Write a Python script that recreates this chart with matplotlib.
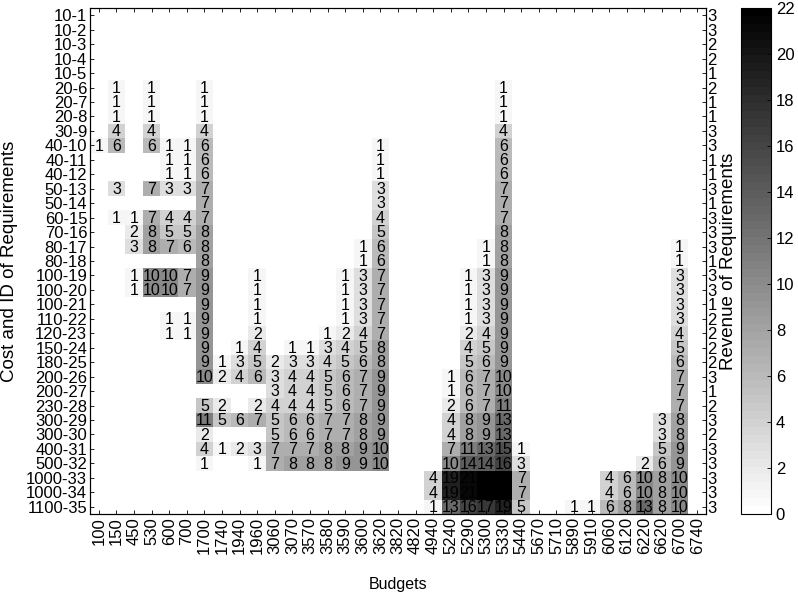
import numpy as np
import matplotlib
matplotlib.use("Agg")
import matplotlib.pyplot as plt

plt.rcParams["font.family"] = ["Liberation Sans", "DejaVu Sans"]

budgets = [100, 150, 450, 530, 600, 700, 1700, 1740, 1940, 1960, 3060, 3070,
           3570, 3580, 3590, 3600, 3620, 3820, 4820, 4940, 5240, 5290, 5300,
           5330, 5440, 5670, 5710, 5890, 5910, 6060, 6120, 6220, 6620, 6700, 6740]

requirements = ["10-1", "10-2", "10-3", "10-4", "10-5", "20-6", "20-7", "20-8",
                "30-9", "40-10", "40-11", "40-12", "50-13", "50-14", "60-15",
                "70-16", "80-17", "80-18", "100-19", "100-20", "100-21", "110-22",
                "120-23", "150-24", "180-25", "200-26", "200-27", "230-28",
                "300-29", "300-30", "400-31", "500-32", "1000-33", "1000-34",
                "1100-35"]

revenue = [3, 3, 2, 2, 1, 2, 1, 1, 3, 3, 1, 1, 3, 1, 3, 3, 3, 1, 3, 3, 1, 2, 2,
           2, 2, 3, 1, 2, 3, 2, 3, 3, 3, 3, 3]

# how often each requirement is picked, per budget (budget -> count), one dict per row
picks = [
    {}, {}, {}, {}, {},
    {150: 1, 530: 1, 1700: 1, 5330: 1},
    {150: 1, 530: 1, 1700: 1, 5330: 1},
    {150: 1, 530: 1, 1700: 1, 5330: 1},
    {150: 4, 530: 4, 1700: 4, 5330: 4},
    {100: 1, 150: 6, 530: 6, 600: 1, 700: 1, 1700: 6, 3620: 1, 5330: 6},
    {600: 1, 700: 1, 1700: 6, 3620: 1, 5330: 6},
    {600: 1, 700: 1, 1700: 6, 3620: 1, 5330: 6},
    {150: 3, 530: 7, 600: 3, 700: 3, 1700: 7, 3620: 3, 5330: 7},
    {1700: 7, 3620: 3, 5330: 7},
    {150: 1, 450: 1, 530: 7, 600: 4, 700: 4, 1700: 7, 3620: 4, 5330: 7},
    {450: 2, 530: 8, 600: 5, 700: 5, 1700: 8, 3620: 5, 5330: 8},
    {450: 3, 530: 8, 600: 7, 700: 6, 1700: 8, 3600: 1, 3620: 6, 5300: 1,
     5330: 8, 6700: 1},
    {1700: 8, 3600: 1, 3620: 6, 5300: 1, 5330: 8, 6700: 1},
    {450: 1, 530: 10, 600: 10, 700: 7, 1700: 9, 1960: 1, 3590: 1, 3600: 3,
     3620: 7, 5290: 1, 5300: 3, 5330: 9, 6700: 3},
    {450: 1, 530: 10, 600: 10, 700: 7, 1700: 9, 1960: 1, 3590: 1, 3600: 3,
     3620: 7, 5290: 1, 5300: 3, 5330: 9, 6700: 3},
    {1700: 9, 1960: 1, 3590: 1, 3600: 3, 3620: 7, 5290: 1, 5300: 3, 5330: 9,
     6700: 3},
    {600: 1, 700: 1, 1700: 9, 1960: 1, 3590: 1, 3600: 3, 3620: 7, 5290: 1,
     5300: 3, 5330: 9, 6700: 3},
    {600: 1, 700: 1, 1700: 9, 1960: 2, 3580: 1, 3590: 2, 3600: 4, 3620: 7,
     5290: 2, 5300: 4, 5330: 9, 6700: 4},
    {1700: 9, 1940: 1, 1960: 4, 3070: 1, 3570: 1, 3580: 3, 3590: 4, 3600: 5,
     3620: 8, 5290: 4, 5300: 5, 5330: 9, 6700: 5},
    {1700: 9, 1740: 1, 1940: 3, 1960: 5, 3060: 2, 3070: 3, 3570: 3, 3580: 4,
     3590: 5, 3600: 6, 3620: 8, 5290: 5, 5300: 6, 5330: 9, 6700: 6},
    {1700: 10, 1740: 2, 1940: 4, 1960: 6, 3060: 3, 3070: 4, 3570: 4, 3580: 5,
     3590: 6, 3600: 7, 3620: 9, 5240: 1, 5290: 6, 5300: 7, 5330: 10, 6700: 7},
    {3060: 3, 3070: 4, 3570: 4, 3580: 5, 3590: 6, 3600: 7, 3620: 9, 5240: 1,
     5290: 6, 5300: 7, 5330: 10, 6700: 7},
    {1700: 5, 1740: 2, 1960: 2, 3060: 4, 3070: 4, 3570: 4, 3580: 5, 3590: 6,
     3600: 7, 3620: 9, 5240: 2, 5290: 6, 5300: 7, 5330: 11, 6700: 7},
    {1700: 11, 1740: 5, 1940: 6, 1960: 7, 3060: 5, 3070: 6, 3570: 6, 3580: 7,
     3590: 7, 3600: 8, 3620: 9, 5240: 4, 5290: 8, 5300: 9, 5330: 13, 6620: 3,
     6700: 8},
    {1700: 2, 3060: 5, 3070: 6, 3570: 6, 3580: 7, 3590: 7, 3600: 8, 3620: 9,
     5240: 4, 5290: 8, 5300: 9, 5330: 13, 6620: 3, 6700: 8},
    {1700: 4, 1740: 1, 1940: 2, 1960: 3, 3060: 7, 3070: 7, 3570: 7, 3580: 8,
     3590: 8, 3600: 9, 3620: 10, 5240: 7, 5290: 11, 5300: 13, 5330: 15,
     5440: 1, 6620: 5, 6700: 9},
    {1700: 1, 1960: 1, 3060: 7, 3070: 8, 3570: 8, 3580: 8, 3590: 9, 3600: 9,
     3620: 10, 5240: 10, 5290: 14, 5300: 14, 5330: 16, 5440: 3, 6220: 2,
     6620: 6, 6700: 9},
    {4940: 4, 5240: 19, 5290: 21, 5300: 22, 5330: 22, 5440: 7, 6060: 4,
     6120: 6, 6220: 10, 6620: 8, 6700: 10},
    {4940: 4, 5240: 19, 5290: 21, 5300: 22, 5330: 22, 5440: 7, 6060: 4,
     6120: 6, 6220: 10, 6620: 8, 6700: 10},
    {4940: 1, 5240: 13, 5290: 16, 5300: 17, 5330: 19, 5440: 5, 5890: 1,
     5910: 1, 6060: 6, 6120: 8, 6220: 13, 6620: 8, 6700: 10},
]

VMAX = 22
FS = 12

counts = np.zeros((len(requirements), len(budgets)))
for i, row in enumerate(picks):
    for b, c in row.items():
        counts[i, budgets.index(b)] = c

fig = plt.figure(figsize=(7.98, 6.0), dpi=100)
ax = fig.add_axes([90 / 798, 86 / 600, 616 / 798, 506 / 600])
cmap = plt.get_cmap("gray_r", 64)
im = ax.imshow(counts, cmap=cmap, vmin=0, vmax=VMAX, aspect="auto",
               interpolation="nearest")

for i in range(counts.shape[0]):
    for j in range(counts.shape[1]):
        if counts[i, j] > 0:
            ax.text(j, i + 0.05, f"{int(counts[i, j])}", ha="center", va="center",
                    fontsize=11.5, color="black")

ax.set_xticks(range(len(budgets)))
ax.set_xticklabels([str(b) for b in budgets], rotation=90, fontsize=FS)
ax.set_yticks(range(len(requirements)))
ax.set_yticklabels(requirements, fontsize=FS)
ax.tick_params(direction="in", length=3, width=0.6, top=True, right=False, pad=2)
ax.set_xlabel("Budgets", fontsize=11.5)
ax.set_ylabel("Cost and ID of Requirements", fontsize=13.5)
ax.xaxis.set_label_coords(0.5, -0.125)
ax.yaxis.set_label_coords(-0.117, 0.5)
for s in ax.spines.values():
    s.set_linewidth(0.8)

ax2 = ax.twinx()
ax2.set_ylim(ax.get_ylim())
ax2.set_yticks(range(len(requirements)))
ax2.set_yticklabels([str(r) for r in revenue], fontsize=FS)
ax2.tick_params(direction="in", length=3, width=0.6, pad=1)
ax2.set_ylabel("Revenue of Requirements", fontsize=13.5)
ax2.yaxis.set_label_coords(1.023, 0.5)

cax = fig.add_axes([741 / 798, 86 / 600, 30 / 798, 506 / 600])
cb = fig.colorbar(im, cax=cax, ticks=range(0, VMAX + 1, 2))
cb.ax.tick_params(direction="in", length=3, width=0.6, labelsize=FS)
cb.outline.set_linewidth(0.8)

fig.savefig("out.png", dpi=100)
